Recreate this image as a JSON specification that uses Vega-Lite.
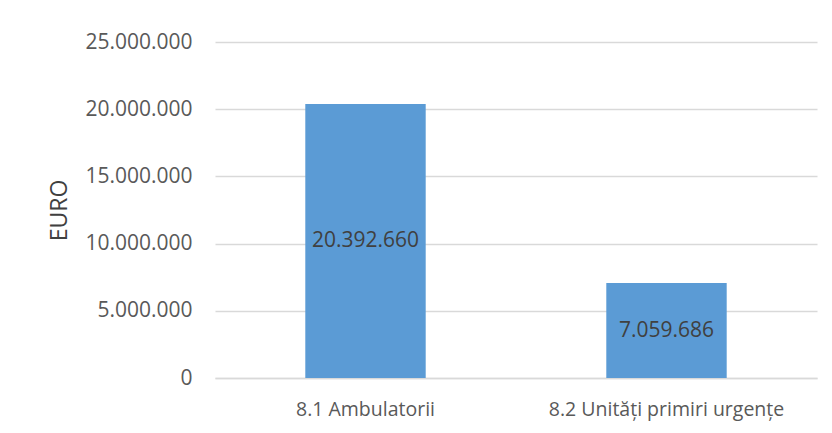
{
  "$schema": "https://vega.github.io/schema/vega-lite/v6.json",
  "width": 602,
  "height": 336,
  "autosize": {"type": "none"},
  "padding": {"left": 215, "top": 42, "right": 15, "bottom": 55},
  "background": "white",
  "config": {
    "view": {"stroke": null},
    "font": "Open Sans",
    "locale": {"number": {"decimal": ",", "thousands": ".", "grouping": [3], "currency": ["", " €"]}}
  },
  "data": {
    "values": [
      {"category": "8.1 Ambulatorii", "value": 20392660},
      {"category": "8.2 Unități primiri urgențe", "value": 7059686}
    ]
  },
  "encoding": {
    "x": {
      "field": "category", "type": "nominal", "sort": null,
      "scale": {"paddingInner": 0.6, "paddingOuter": 0.3},
      "axis": {"title": null, "labelAngle": 0, "labelFontSize": 19.5, "labelColor": "#595959", "labelLimit": 0,
               "labelPadding": 22, "ticks": false, "domainColor": "#d9d9d9", "domainWidth": 1.3, "grid": false}
    }
  },
  "layer": [
    {
      "mark": {"type": "bar", "color": "#5B9BD5"},
      "encoding": {
        "y": {
          "field": "value", "type": "quantitative",
          "scale": {"domain": [0, 25000000]},
          "axis": {"title": "EURO", "titleFontSize": 23, "titleFontWeight": "normal", "titleColor": "#404040",
                   "titlePadding": 13, "values": [0, 5000000, 10000000, 15000000, 20000000, 25000000],
                   "format": ",.0f", "labelFontSize": 21, "labelColor": "#595959", "labelPadding": 23,
                   "ticks": false, "domain": false, "gridColor": "#d9d9d9", "gridWidth": 1.3}
        }
      }
    },
    {
      "mark": {"type": "text", "fontSize": 21, "color": "#404040", "baseline": "middle"},
      "encoding": {
        "y": {"field": "value", "type": "quantitative", "scale": {"domain": [0, 50000000]}, "axis": null},
        "text": {"field": "value", "type": "quantitative", "format": ",.0f"}
      }
    }
  ],
  "resolve": {"scale": {"y": "independent"}}
}
